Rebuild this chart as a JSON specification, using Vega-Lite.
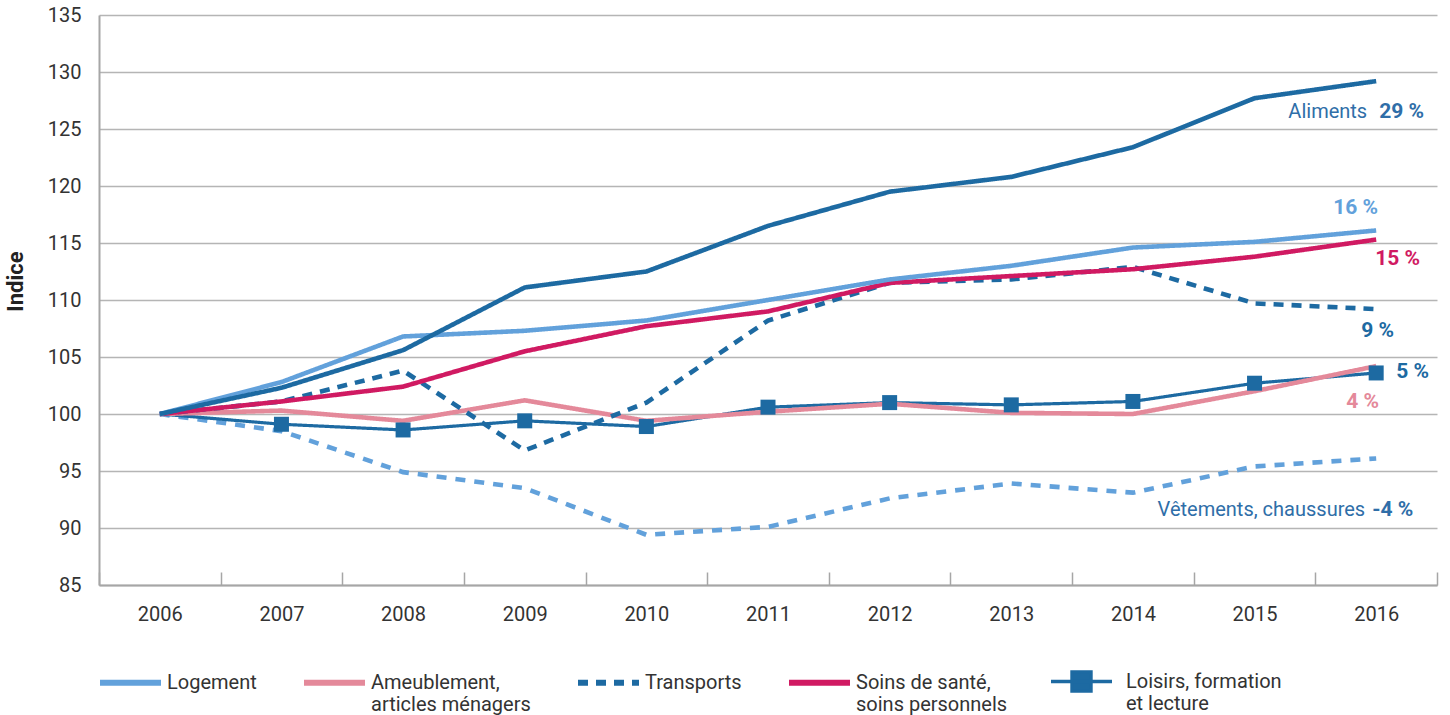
{
  "$schema": "https://vega.github.io/schema/vega-lite/v6.json",
  "width": 1338,
  "height": 570,
  "autosize": {"type": "none"},
  "padding": {"left": 99, "top": 15, "right": 13, "bottom": 130},
  "background": "white",
  "config": {
    "font": "Roboto",
    "view": {"stroke": null},
    "axis": {"labelFontSize": 20, "labelColor": "#333333"},
    "legend": {
      "orient": "none",
      "legendY": 634,
      "direction": "horizontal",
      "padding": 0,
      "symbolSize": 3721,
      "symbolStrokeWidth": 6,
      "labelFontSize": 20,
      "labelColor": "#333333",
      "labelOffset": 3,
      "labelLimit": 300,
      "labelBaseline": "middle"
    }
  },
  "data": {
    "values": [
      {"cat": "Vêtements, chaussures", "year": "2006", "value": 100},
      {"cat": "Vêtements, chaussures", "year": "2007", "value": 98.5},
      {"cat": "Vêtements, chaussures", "year": "2008", "value": 94.9},
      {"cat": "Vêtements, chaussures", "year": "2009", "value": 93.5},
      {"cat": "Vêtements, chaussures", "year": "2010", "value": 89.4},
      {"cat": "Vêtements, chaussures", "year": "2011", "value": 90.1},
      {"cat": "Vêtements, chaussures", "year": "2012", "value": 92.6},
      {"cat": "Vêtements, chaussures", "year": "2013", "value": 93.9},
      {"cat": "Vêtements, chaussures", "year": "2014", "value": 93.1},
      {"cat": "Vêtements, chaussures", "year": "2015", "value": 95.4},
      {"cat": "Vêtements, chaussures", "year": "2016", "value": 96.1},
      {"cat": "Loisirs, formation et lecture", "year": "2006", "value": 100},
      {"cat": "Loisirs, formation et lecture", "year": "2007", "value": 99.1},
      {"cat": "Loisirs, formation et lecture", "year": "2008", "value": 98.6},
      {"cat": "Loisirs, formation et lecture", "year": "2009", "value": 99.4},
      {"cat": "Loisirs, formation et lecture", "year": "2010", "value": 98.9},
      {"cat": "Loisirs, formation et lecture", "year": "2011", "value": 100.6},
      {"cat": "Loisirs, formation et lecture", "year": "2012", "value": 101.0},
      {"cat": "Loisirs, formation et lecture", "year": "2013", "value": 100.8},
      {"cat": "Loisirs, formation et lecture", "year": "2014", "value": 101.1},
      {"cat": "Loisirs, formation et lecture", "year": "2015", "value": 102.7},
      {"cat": "Loisirs, formation et lecture", "year": "2016", "value": 103.6},
      {"cat": "Ameublement, articles ménagers", "year": "2006", "value": 100},
      {"cat": "Ameublement, articles ménagers", "year": "2007", "value": 100.3},
      {"cat": "Ameublement, articles ménagers", "year": "2008", "value": 99.4},
      {"cat": "Ameublement, articles ménagers", "year": "2009", "value": 101.2},
      {"cat": "Ameublement, articles ménagers", "year": "2010", "value": 99.4},
      {"cat": "Ameublement, articles ménagers", "year": "2011", "value": 100.2},
      {"cat": "Ameublement, articles ménagers", "year": "2012", "value": 100.9},
      {"cat": "Ameublement, articles ménagers", "year": "2013", "value": 100.1},
      {"cat": "Ameublement, articles ménagers", "year": "2014", "value": 100.0},
      {"cat": "Ameublement, articles ménagers", "year": "2015", "value": 102.0},
      {"cat": "Ameublement, articles ménagers", "year": "2016", "value": 104.2},
      {"cat": "Transports", "year": "2006", "value": 100},
      {"cat": "Transports", "year": "2007", "value": 101.1},
      {"cat": "Transports", "year": "2008", "value": 103.8},
      {"cat": "Transports", "year": "2009", "value": 96.8},
      {"cat": "Transports", "year": "2010", "value": 101.0},
      {"cat": "Transports", "year": "2011", "value": 108.2},
      {"cat": "Transports", "year": "2012", "value": 111.5},
      {"cat": "Transports", "year": "2013", "value": 111.8},
      {"cat": "Transports", "year": "2014", "value": 112.9},
      {"cat": "Transports", "year": "2015", "value": 109.7},
      {"cat": "Transports", "year": "2016", "value": 109.2},
      {"cat": "Soins de santé, soins personnels", "year": "2006", "value": 100},
      {"cat": "Soins de santé, soins personnels", "year": "2007", "value": 101.1},
      {"cat": "Soins de santé, soins personnels", "year": "2008", "value": 102.4},
      {"cat": "Soins de santé, soins personnels", "year": "2009", "value": 105.5},
      {"cat": "Soins de santé, soins personnels", "year": "2010", "value": 107.7},
      {"cat": "Soins de santé, soins personnels", "year": "2011", "value": 109.0},
      {"cat": "Soins de santé, soins personnels", "year": "2012", "value": 111.5},
      {"cat": "Soins de santé, soins personnels", "year": "2013", "value": 112.1},
      {"cat": "Soins de santé, soins personnels", "year": "2014", "value": 112.7},
      {"cat": "Soins de santé, soins personnels", "year": "2015", "value": 113.8},
      {"cat": "Soins de santé, soins personnels", "year": "2016", "value": 115.3},
      {"cat": "Logement", "year": "2006", "value": 100},
      {"cat": "Logement", "year": "2007", "value": 102.8},
      {"cat": "Logement", "year": "2008", "value": 106.8},
      {"cat": "Logement", "year": "2009", "value": 107.3},
      {"cat": "Logement", "year": "2010", "value": 108.2},
      {"cat": "Logement", "year": "2011", "value": 110.0},
      {"cat": "Logement", "year": "2012", "value": 111.8},
      {"cat": "Logement", "year": "2013", "value": 113.0},
      {"cat": "Logement", "year": "2014", "value": 114.6},
      {"cat": "Logement", "year": "2015", "value": 115.1},
      {"cat": "Logement", "year": "2016", "value": 116.1},
      {"cat": "Aliments", "year": "2006", "value": 100},
      {"cat": "Aliments", "year": "2007", "value": 102.3},
      {"cat": "Aliments", "year": "2008", "value": 105.6},
      {"cat": "Aliments", "year": "2009", "value": 111.1},
      {"cat": "Aliments", "year": "2010", "value": 112.5},
      {"cat": "Aliments", "year": "2011", "value": 116.5},
      {"cat": "Aliments", "year": "2012", "value": 119.5},
      {"cat": "Aliments", "year": "2013", "value": 120.8},
      {"cat": "Aliments", "year": "2014", "value": 123.4},
      {"cat": "Aliments", "year": "2015", "value": 127.7},
      {"cat": "Aliments", "year": "2016", "value": 129.2}
    ]
  },
  "encoding": {
    "x": {
      "field": "year",
      "type": "ordinal",
      "scale": {"type": "band", "paddingInner": 0, "paddingOuter": 0},
      "axis": {
        "title": null,
        "labelAngle": 0,
        "tickBand": "extent",
        "tickSize": -13,
        "tickColor": "#a6a6a6",
        "tickWidth": 1.5,
        "domainColor": "#a6a6a6",
        "domainWidth": 2,
        "labelPadding": 32,
        "labelBaseline": "top",
        "grid": false
      }
    },
    "y": {
      "field": "value",
      "type": "quantitative",
      "scale": {"domain": [85, 135], "nice": false, "zero": false},
      "axis": {
        "title": "Indice",
        "values": [85, 90, 95, 100, 105, 110, 115, 120, 125, 130, 135],
        "ticks": false,
        "labelPadding": 18,
        "grid": true,
        "gridColor": "#b5b5b5",
        "gridWidth": 1.3,
        "domainColor": "#a6a6a6",
        "domainWidth": 2,
        "titleFontSize": 22,
        "titleFontWeight": "bold",
        "titleColor": "#222222",
        "titleX": -84,
        "titleY": 266,
        "titleAlign": "center",
        "titleBaseline": "middle",
        "titleAngle": -90
      }
    }
  },
  "layer": [
    {
      "mark": {"type": "line", "strokeCap": "butt", "strokeJoin": "miter"},
      "encoding": {
        "color": {
          "field": "cat",
          "type": "nominal",
          "sort": null,
          "scale": {
            "domain": ["Logement", "Ameublement, articles ménagers", "Transports", "Soins de santé, soins personnels", "Loisirs, formation et lecture", "Aliments", "Vêtements, chaussures"],
            "range": ["#62a1db", "#e4899a", "#1d6aa2", "#d01a62", "#1d6aa2", "#1d6aa2", "#62a1db"]
          },
          "legend": {
            "title": null,
            "values": ["Logement", "Ameublement, articles ménagers", "Transports", "Soins de santé, soins personnels"],
            "legendX": -2,
            "columns": 4,
            "columnPadding": 35,
            "symbolType": "stroke",
            "labelExpr": "datum.label == 'Ameublement, articles ménagers' ? ['Ameublement,', 'articles ménagers'] : datum.label == 'Soins de santé, soins personnels' ? ['Soins de santé,', 'soins personnels'] : [datum.label, '']"
          }
        },
        "strokeDash": {
          "field": "cat",
          "type": "nominal",
          "sort": null,
          "scale": {
            "domain": ["Logement", "Ameublement, articles ménagers", "Transports", "Soins de santé, soins personnels", "Loisirs, formation et lecture", "Aliments", "Vêtements, chaussures"],
            "range": [[1, 0], [1, 0], [10, 8], [1, 0], [1, 0], [1, 0], [10, 9]]
          },
          "legend": {
            "title": null,
            "values": ["Logement", "Ameublement, articles ménagers", "Transports", "Soins de santé, soins personnels"],
            "legendX": -2,
            "columns": 4,
            "columnPadding": 35,
            "symbolType": "stroke",
            "labelExpr": "datum.label == 'Ameublement, articles ménagers' ? ['Ameublement,', 'articles ménagers'] : datum.label == 'Soins de santé, soins personnels' ? ['Soins de santé,', 'soins personnels'] : [datum.label, '']"
          }
        },
        "strokeWidth": {
          "condition": {"test": "datum.cat === 'Loisirs, formation et lecture'", "value": 3.2},
          "value": 4.6
        }
      }
    },
    {
      "transform": [{"filter": "datum.cat === 'Loisirs, formation et lecture' && datum.year !== '2006'"}],
      "mark": {"type": "point", "shape": "square", "filled": true, "opacity": 1, "size": 225, "strokeWidth": 0},
      "encoding": {
        "fill": {
          "field": "cat",
          "type": "nominal",
          "scale": {"domain": ["Loisirs, formation et lecture"], "range": ["#1d6aa2"]},
          "legend": {
            "title": null,
            "legendX": 950,
            "labelOffset": 12,
            "symbolType": "M-1,0H1M-0.31,-0.31H0.31V0.31H-0.31Z",
            "symbolStrokeColor": "#1d6aa2",
            "symbolStrokeWidth": 3.5,
            "labelExpr": "['Loisirs, formation', 'et lecture']"
          }
        }
      }
    },
    {
      "transform": [{"filter": "datum.cat === 'Aliments' && datum.year === '2016'"}],
      "mark": {"type": "text", "text": "Aliments", "align": "right", "baseline": "alphabetic", "dx": -9, "dy": 37, "fontSize": 20, "color": "#2f6ea8"}
    },
    {
      "transform": [{"filter": "datum.cat === 'Aliments' && datum.year === '2016'"}],
      "mark": {"type": "text", "text": "29 %", "align": "left", "baseline": "alphabetic", "dx": 3, "dy": 37, "fontSize": 21, "fontWeight": "bold", "color": "#2f6ea8"}
    },
    {
      "transform": [{"filter": "datum.cat === 'Logement' && datum.year === '2016'"}],
      "mark": {"type": "text", "text": "16 %", "align": "left", "baseline": "alphabetic", "dx": -43, "dy": -16, "fontSize": 21, "fontWeight": "bold", "color": "#62a1db"}
    },
    {
      "transform": [{"filter": "datum.cat === 'Soins de santé, soins personnels' && datum.year === '2016'"}],
      "mark": {"type": "text", "text": "15 %", "align": "left", "baseline": "alphabetic", "dx": -1, "dy": 25, "fontSize": 21, "fontWeight": "bold", "color": "#d01a62"}
    },
    {
      "transform": [{"filter": "datum.cat === 'Transports' && datum.year === '2016'"}],
      "mark": {"type": "text", "text": "9 %", "align": "left", "baseline": "alphabetic", "dx": -15, "dy": 28, "fontSize": 21, "fontWeight": "bold", "color": "#1d6aa2"}
    },
    {
      "transform": [{"filter": "datum.cat === 'Loisirs, formation et lecture' && datum.year === '2016'"}],
      "mark": {"type": "text", "text": "5 %", "align": "left", "baseline": "alphabetic", "dx": 20, "dy": 5, "fontSize": 21, "fontWeight": "bold", "color": "#1d6aa2"}
    },
    {
      "transform": [{"filter": "datum.cat === 'Ameublement, articles ménagers' && datum.year === '2016'"}],
      "mark": {"type": "text", "text": "4 %", "align": "left", "baseline": "alphabetic", "dx": -30, "dy": 42, "fontSize": 21, "fontWeight": "bold", "color": "#e4899a"}
    },
    {
      "transform": [{"filter": "datum.cat === 'Vêtements, chaussures' && datum.year === '2016'"}],
      "mark": {"type": "text", "text": "Vêtements, chaussures", "align": "right", "baseline": "alphabetic", "dx": -11, "dy": 58, "fontSize": 20, "color": "#2f6ea8"}
    },
    {
      "transform": [{"filter": "datum.cat === 'Vêtements, chaussures' && datum.year === '2016'"}],
      "mark": {"type": "text", "text": "-4 %", "align": "left", "baseline": "alphabetic", "dx": -4, "dy": 58, "fontSize": 21, "fontWeight": "bold", "color": "#2f6ea8"}
    }
  ]
}
